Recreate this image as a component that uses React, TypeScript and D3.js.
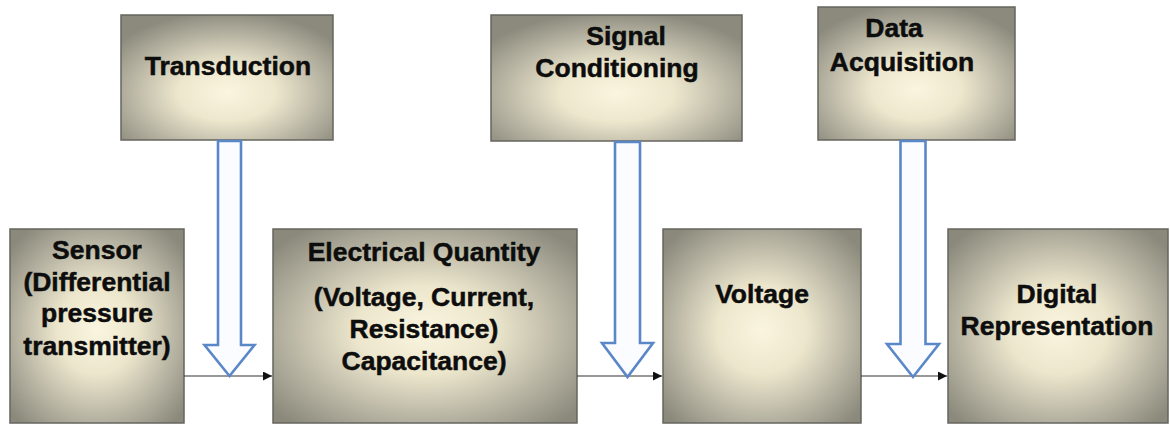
import React from "react";
import * as d3 from "d3";

const W = 1170;
const H = 425;

// Labels of the process stages (top row) and quantities (bottom row)
const stageLabels: string[][] = [
  ["Transduction"],
  ["Signal", "Conditioning"],
  ["Data", "Acquisition"],
];
const quantityLabels: string[][] = [
  ["Sensor", "(Differential", "pressure", "transmitter)"],
  ["Electrical Quantity", "(Voltage, Current,", "Resistance)", "Capacitance)"],
  ["Voltage"],
  ["Digital", "Representation"],
];

// layout (pixels)
const stageBoxes = [
  { x0: 121, x1: 333, y0: 15, y1: 140, tx: 228, ty: [75] },
  { x0: 491, x1: 742, y0: 15, y1: 141, tx: [626, 617], ty: [45, 77] },
  { x0: 818, x1: 1015, y0: 7, y1: 140, tx: [894, 902], ty: [37, 71] },
];
const quantityBoxes = [
  { x0: 10, x1: 184, y0: 229, y1: 423, tx: 97, ty: [259, 291, 322, 355] },
  { x0: 273, x1: 577, y0: 229, y1: 423, tx: 424, ty: [261, 306, 338, 370] },
  { x0: 663, x1: 861, y0: 229, y1: 423, tx: 762, ty: [303] },
  { x0: 948, x1: 1168, y0: 229, y1: 423, tx: 1057, ty: [303, 335] },
];
const bigArrows = [
  { cx: 229.5, shaft: 23, head: 50, y0: 141, yHead: 345, yTip: 376 },
  { cx: 627.5, shaft: 25, head: 51, y0: 142, yHead: 343, yTip: 377 },
  { cx: 913, shaft: 25, head: 52, y0: 141, yHead: 344, yTip: 377 },
];
const connectorY = 376;

function arrowPath(a: typeof bigArrows[number]) {
  const p = d3.path();
  const s = a.shaft / 2;
  const h = a.head / 2;
  p.moveTo(a.cx - s, a.y0);
  p.lineTo(a.cx + s, a.y0);
  p.lineTo(a.cx + s, a.yHead);
  p.lineTo(a.cx + h, a.yHead);
  p.lineTo(a.cx, a.yTip);
  p.lineTo(a.cx - h, a.yHead);
  p.lineTo(a.cx - s, a.yHead);
  p.closePath();
  return p.toString();
}

const font = "'Liberation Sans', Arial, sans-serif";

function Box({ b, lines, id }: { b: any; lines: string[]; id: string }) {
  return (
    <g>
      <rect
        x={b.x0}
        y={b.y0}
        width={b.x1 - b.x0}
        height={b.y1 - b.y0}
        fill={`url(#${id})`}
        stroke="#66655f"
        strokeWidth={1.5}
      />
      {lines.map((t, i) => (
        <text
          key={i}
          x={Array.isArray(b.tx) ? b.tx[i] : b.tx}
          y={b.ty[i]}
          textAnchor="middle"
          fontFamily={font}
          fontWeight="bold"
          fontSize={26.5}
          fill="#0d0d0d"
          stroke="#0d0d0d"
          strokeWidth={0.5}
        >
          {t}
        </text>
      ))}
    </g>
  );
}

export default function App() {
  const line = d3.line<[number, number]>();
  const connectors: [number, number][][] = [];
  for (let i = 0; i < quantityBoxes.length - 1; i++) {
    connectors.push([
      [quantityBoxes[i].x1, connectorY],
      [quantityBoxes[i + 1].x0 - 1, connectorY],
    ]);
  }
  return (
    <svg
      width={W}
      height={H}
      style={{ position: "absolute", left: 0, top: 0, background: "#fff" }}
    >
      <defs>
        <radialGradient id="gTop" cx="50%" cy="62%" r="65%">
          <stop offset="0%" stopColor="#faf5e0" />
          <stop offset="35%" stopColor="#ede7cd" />
          <stop offset="75%" stopColor="#b1ae9e" />
          <stop offset="100%" stopColor="#8c8a7c" />
        </radialGradient>
        <radialGradient id="gBot" cx="50%" cy="52%" r="65%">
          <stop offset="0%" stopColor="#faf5e0" />
          <stop offset="35%" stopColor="#ece6cc" />
          <stop offset="75%" stopColor="#b0ad9d" />
          <stop offset="100%" stopColor="#8b897b" />
        </radialGradient>
        <marker
          id="ah"
          viewBox="0 0 10 10"
          refX={10}
          refY={5}
          markerWidth={9}
          markerHeight={9}
          markerUnits="userSpaceOnUse"
          orient="auto"
        >
          <path d="M0,0 L10,5 L0,10 z" fill="#111" />
        </marker>
      </defs>
      {stageBoxes.map((b, i) => (
        <Box key={"s" + i} b={b} lines={stageLabels[i]} id="gTop" />
      ))}
      {quantityBoxes.map((b, i) => (
        <Box key={"q" + i} b={b} lines={quantityLabels[i]} id="gBot" />
      ))}
      {connectors.map((c, i) => (
        <path
          key={"c" + i}
          d={line(c) || ""}
          stroke="#333"
          strokeWidth={1.2}
          fill="none"
          markerEnd="url(#ah)"
        />
      ))}
      {bigArrows.map((a, i) => (
        <path
          key={"a" + i}
          d={arrowPath(a)}
          fill="#fbfcff"
          stroke="#5a87c8"
          strokeWidth={2.6}
          strokeLinejoin="miter"
        />
      ))}
    </svg>
  );
}
